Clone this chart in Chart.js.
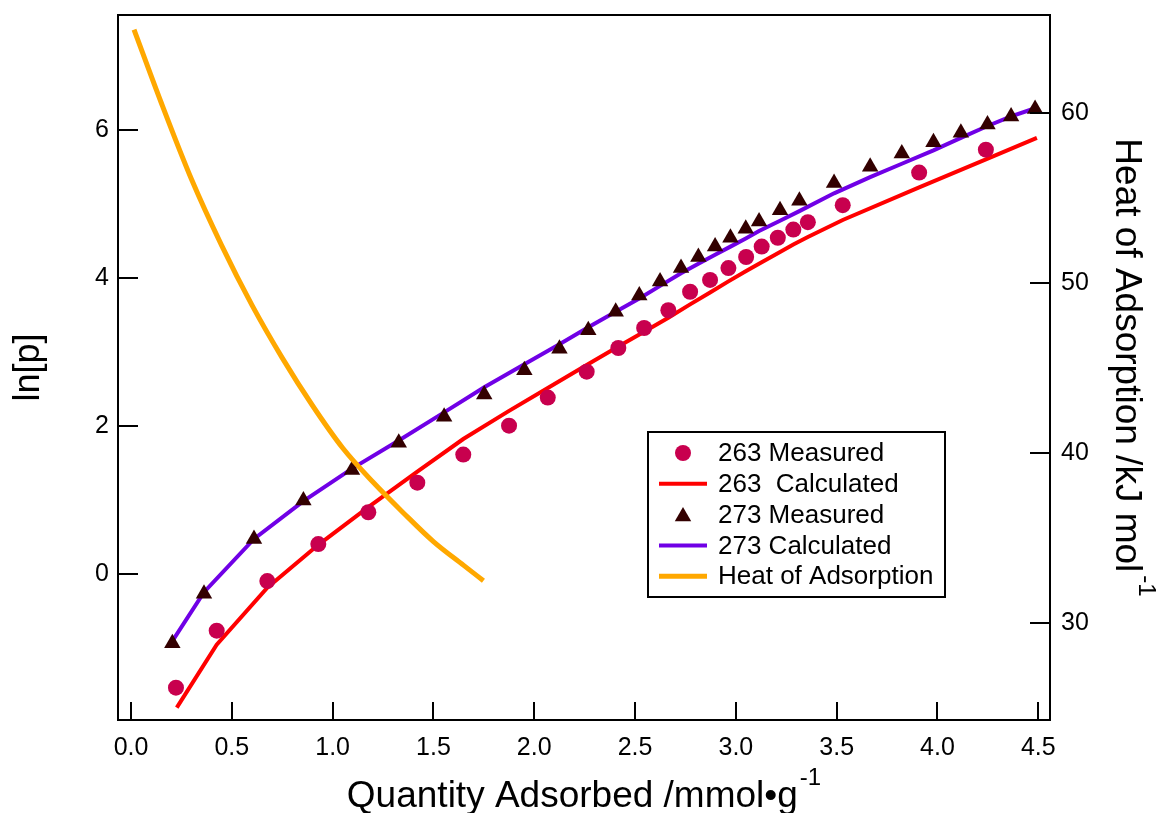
<!DOCTYPE html>
<html>
<head>
<meta charset="utf-8">
<script src="https://cdn.jsdelivr.net/npm/chart.js@4.4.1/dist/chart.umd.min.js"></script>
<style>
  html, body { margin: 0; padding: 0; background: #ffffff; }
  #wrap { width: 1159px; height: 813px; }
</style>
</head>
<body>
<div id="wrap"><canvas id="c" width="1159" height="813"></canvas></div>
<script>
// ---------- data ----------
const xTicks = [0, 0.5, 1.0, 1.5, 2.0, 2.5, 3.0, 3.5, 4.0, 4.5];
const lnTicks = [0, 2, 4, 6];
const heatTicks = [30, 40, 50, 60];

const seriesLabels = ["263 Measured", "263  Calculated", "273 Measured", "273 Calculated", "Heat of Adsorption"];

const m263X = [0.223, 0.425, 0.676, 0.929, 1.177, 1.420, 1.648, 1.875, 2.067, 2.260, 2.417, 2.545, 2.665, 2.773, 2.872, 2.963, 3.051, 3.128, 3.208, 3.285, 3.357, 3.530, 3.909, 4.240];
const m263Y = [-1.54, -0.77, -0.10, 0.40, 0.83, 1.23, 1.61, 2.00, 2.38, 2.73, 3.05, 3.32, 3.56, 3.81, 3.97, 4.13, 4.28, 4.42, 4.54, 4.65, 4.75, 4.98, 5.42, 5.73];

const c263X = [0.227, 0.425, 0.676, 0.929, 1.177, 1.420, 1.648, 1.875, 2.067, 2.260, 2.417, 2.545, 2.665, 2.773, 2.872, 2.963, 3.051, 3.128, 3.208, 3.285, 3.357, 3.530, 3.909, 4.240, 4.493];
const c263Y = [-1.81, -0.96, -0.19, 0.39, 0.90, 1.38, 1.82, 2.20, 2.51, 2.82, 3.07, 3.27, 3.46, 3.64, 3.80, 3.95, 4.09, 4.21, 4.33, 4.45, 4.55, 4.78, 5.22, 5.60, 5.89];

const m273X = [0.205, 0.362, 0.610, 0.855, 1.096, 1.328, 1.553, 1.752, 1.951, 2.125, 2.268, 2.404, 2.521, 2.624, 2.728, 2.814, 2.897, 2.973, 3.049, 3.115, 3.219, 3.315, 3.487, 3.666, 3.823, 3.980, 4.116, 4.248, 4.365, 4.484];
const m273Y = [-0.94, -0.27, 0.47, 0.99, 1.40, 1.77, 2.12, 2.42, 2.75, 3.04, 3.29, 3.54, 3.76, 3.95, 4.13, 4.28, 4.42, 4.54, 4.66, 4.76, 4.91, 5.04, 5.28, 5.50, 5.68, 5.83, 5.96, 6.07, 6.18, 6.28];

const c273X = [0.205, 0.362, 0.610, 0.855, 1.096, 1.328, 1.553, 1.752, 1.951, 2.125, 2.268, 2.404, 2.521, 2.624, 2.728, 2.814, 2.897, 2.973, 3.049, 3.115, 3.219, 3.315, 3.487, 3.666, 3.823, 3.980, 4.116, 4.248, 4.365, 4.484];
const c273Y = [-0.91, -0.25, 0.47, 0.98, 1.42, 1.80, 2.18, 2.52, 2.83, 3.10, 3.33, 3.54, 3.72, 3.89, 4.06, 4.19, 4.31, 4.42, 4.53, 4.63, 4.77, 4.90, 5.14, 5.36, 5.54, 5.72, 5.89, 6.05, 6.18, 6.29];

const heatX = [0.015, 0.15, 0.30, 0.45, 0.60, 0.75, 0.90, 1.05, 1.20, 1.35, 1.50, 1.65, 1.748];
const heatY = [64.9, 60.6, 56.1, 52.2, 48.7, 45.6, 42.8, 40.3, 38.3, 36.5, 34.8, 33.4, 32.5];

// ---------- helpers ----------
const pts = (xs, ys) => xs.map((x, i) => ({ x: x, y: ys[i] }));
const FONT = "'Liberation Sans', Arial, Helvetica, sans-serif";

Chart.defaults.font.family = FONT;
Chart.defaults.color = '#000000';

const frameAndTicks = {
  id: 'frameAndTicks',
  afterDatasetsDraw(chart) {
    const { ctx, chartArea: a, scales } = chart;
    ctx.save();
    ctx.strokeStyle = '#000';
    ctx.lineWidth = 2;
    ctx.strokeRect(a.left, a.top, a.right - a.left, a.bottom - a.top);
    ctx.beginPath();
    scales.x.ticks.forEach(t => {
      const p = Math.round(scales.x.getPixelForValue(t.value));
      ctx.moveTo(p, a.bottom); ctx.lineTo(p, a.bottom - 18);
    });
    scales.y.ticks.forEach(t => {
      const p = Math.round(scales.y.getPixelForValue(t.value));
      ctx.moveTo(a.left, p); ctx.lineTo(a.left + 20, p);
    });
    scales.y2.ticks.forEach(t => {
      const p = Math.round(scales.y2.getPixelForValue(t.value));
      ctx.moveTo(a.right, p); ctx.lineTo(a.right - 20, p);
    });
    ctx.stroke();
    ctx.restore();
  }
};

const axisTitles = {
  id: 'axisTitles',
  afterDraw(chart) {
    const { ctx, chartArea: a } = chart;
    const big = "37px " + FONT, small = "24px " + FONT;
    ctx.save();
    ctx.fillStyle = '#000';
    ctx.textBaseline = 'alphabetic';
    ctx.textAlign = 'left';
    // x title
    const xMain = "Quantity Adsorbed /mmol\u2022g", sup = "-1";
    ctx.font = big; const w1 = ctx.measureText(xMain).width;
    ctx.font = small; const w2 = ctx.measureText(sup).width;
    const cx = (a.left + a.right) / 2;
    let sx = cx - (w1 + w2 + 2) / 2;
    ctx.font = big; ctx.fillText(xMain, sx, 807);
    ctx.font = small; ctx.fillText(sup, sx + w1 + 2, 785);
    // left title
    const cy = (a.top + a.bottom) / 2;
    ctx.save();
    ctx.translate(39, cy);
    ctx.rotate(-Math.PI / 2);
    ctx.font = "36px " + FONT;
    ctx.textAlign = 'center';
    ctx.fillText("ln[p]", 0, 0);
    ctx.restore();
    // right title
    const rMain = "Heat of Adsorption /kJ mol";
    ctx.font = big; const r1 = ctx.measureText(rMain).width;
    ctx.font = small; const r2 = ctx.measureText(sup).width;
    ctx.save();
    ctx.translate(1116, cy);
    ctx.rotate(Math.PI / 2);
    const start = -(r1 + r2 + 3) / 2;
    ctx.font = big; ctx.fillText(rMain, start, 0);
    ctx.font = small; ctx.fillText(sup, start + r1 + 3, -23);
    ctx.restore();
    ctx.restore();
  }
};

const boxLegend = {
  id: 'boxLegend',
  afterDraw(chart) {
    const { ctx } = chart;
    const o = chart.options.plugins.boxLegend;
    ctx.save();
    ctx.fillStyle = '#fff';
    ctx.fillRect(o.left, o.top, o.width, o.height);
    ctx.strokeStyle = '#000';
    ctx.lineWidth = 2;
    ctx.strokeRect(o.left, o.top, o.width, o.height);
    ctx.font = o.font + " " + FONT;
    ctx.textBaseline = 'middle';
    ctx.textAlign = 'left';
    chart.data.datasets.forEach((ds, i) => {
      const y = o.firstRow + i * o.rowGap;
      const sx = o.symbolX;
      if (ds.showLine === false) {
        ctx.fillStyle = ds.backgroundColor;
        ctx.beginPath();
        if (ds.pointStyle === 'triangle') {
          const r = ds.pointRadius;
          for (let k = 0; k < 3; k++) {
            const ang = -Math.PI / 2 + k * 2 * Math.PI / 3;
            const px = sx + Math.cos(ang) * r, py = y + 2 + Math.sin(ang) * r;
            k === 0 ? ctx.moveTo(px, py) : ctx.lineTo(px, py);
          }
          ctx.closePath();
        } else {
          ctx.arc(sx, y, ds.pointRadius, 0, Math.PI * 2);
        }
        ctx.fill();
      } else {
        ctx.strokeStyle = ds.borderColor;
        ctx.lineWidth = ds.borderWidth;
        ctx.beginPath();
        ctx.moveTo(sx - 24, y); ctx.lineTo(sx + 24, y);
        ctx.stroke();
      }
      ctx.fillStyle = '#000';
      ctx.fillText(seriesLabels[i], o.textX, y + 1);
    });
    ctx.restore();
  }
};

const noPad = s => { s.paddingTop = 0; s.paddingBottom = 0; s.paddingLeft = 0; s.paddingRight = 0; };

new Chart(document.getElementById('c'), {
  type: 'line',
  data: {
    datasets: [
      { label: seriesLabels[0], data: pts(m263X, m263Y), showLine: false, pointStyle: 'circle', pointRadius: 8, backgroundColor: '#C8004E', borderWidth: 0, pointBorderWidth: 0, yAxisID: 'y', order: 1 },
      { label: seriesLabels[1], data: pts(c263X, c263Y), borderColor: '#FF0000', borderWidth: 4, pointRadius: 0, tension: 0, yAxisID: 'y', order: 3 },
      { label: seriesLabels[2], data: pts(m273X, m273Y), showLine: false, pointStyle: 'triangle', pointRadius: 9.5, backgroundColor: '#330000', borderWidth: 0, pointBorderWidth: 0, yAxisID: 'y', order: 2 },
      { label: seriesLabels[3], data: pts(c273X, c273Y), borderColor: '#7000E6', borderWidth: 4, pointRadius: 0, tension: 0, yAxisID: 'y', order: 4 },
      { label: seriesLabels[4], data: pts(heatX, heatY), borderColor: '#FFA800', borderWidth: 5, pointRadius: 0, cubicInterpolationMode: 'monotone', yAxisID: 'y2', order: 0 }
    ]
  },
  options: {
    responsive: false,
    animation: false,
    devicePixelRatio: 1,
    layout: { padding: { top: 15, left: 0, right: 0, bottom: 0 } },
    plugins: {
      legend: { display: false },
      tooltip: { enabled: false },
      boxLegend: { left: 648, top: 432, width: 297, height: 165, firstRow: 453, rowGap: 30.8, symbolX: 683, textX: 718, font: '26px' }
    },
    scales: {
      x: {
        type: 'linear', position: 'bottom', min: -0.0645, max: 4.558,
        afterBuildTicks: s => { s.ticks = xTicks.map(v => ({ value: v })); },
        afterFit: s => { s.height = 93; noPad(s); },
        grid: { display: false, drawTicks: false, tickLength: 0 },
        border: { display: false },
        ticks: { font: { size: 25 }, padding: 13, maxRotation: 0, autoSkip: false, callback: v => Number(v).toFixed(1) }
      },
      y: {
        type: 'linear', position: 'left', min: -1.977, max: 7.55,
        afterBuildTicks: s => { s.ticks = lnTicks.map(v => ({ value: v })); },
        afterFit: s => { s.width = 118; noPad(s); },
        grid: { display: false, drawTicks: false, tickLength: 0 },
        border: { display: false },
        ticks: { font: { size: 25 }, padding: 9, autoSkip: false, callback: v => String(v) }
      },
      y2: {
        type: 'linear', position: 'right', min: 24.31, max: 65.76,
        afterBuildTicks: s => { s.ticks = heatTicks.map(v => ({ value: v })); },
        afterFit: s => { s.width = 109; noPad(s); },
        grid: { display: false, drawTicks: false, tickLength: 0 },
        border: { display: false },
        ticks: { font: { size: 25 }, padding: 11, autoSkip: false, callback: v => String(v) }
      }
    }
  },
  plugins: [frameAndTicks, axisTitles, boxLegend]
});
</script>
</body>
</html>
